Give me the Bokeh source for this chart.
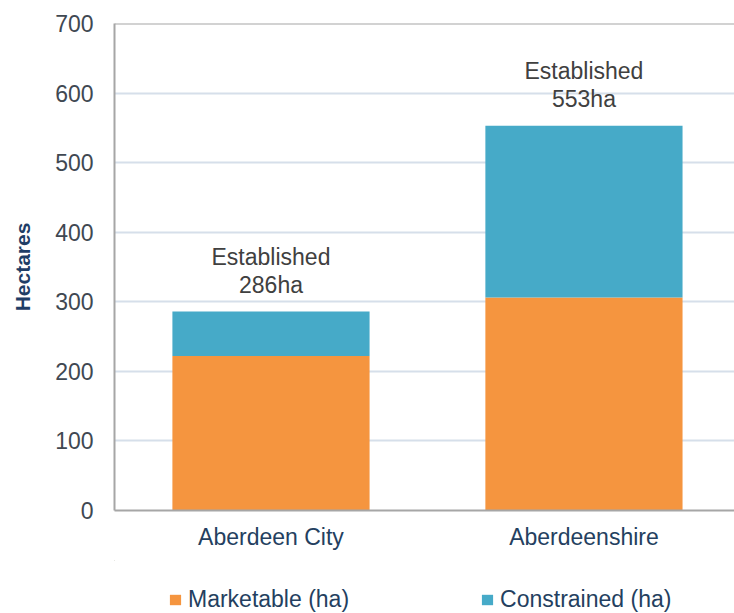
from bokeh.plotting import figure
from bokeh.layouts import column
from bokeh.models import (ColumnDataSource, Range1d, FixedTicker, Span, Legend,
                          LegendItem)
from bokeh.core.properties import value
from bokeh.embed import file_html
from bokeh.resources import INLINE

# ---- data ----
categories = ["Aberdeen City", "Aberdeenshire"]
marketable = [222, 306]
constrained = [64, 247]
established = [286, 553]
y_ticks = [0, 100, 200, 300, 400, 500, 600, 700]
series_names = ["Marketable (ha)", "Constrained (ha)"]

FONT = "Liberation Sans"
ORANGE = "#F5953F"
BLUE = "#46AAC8"
GRID = "#d6dfea"
AXIS = "#a6a6a6"
NAVY = "#243f60"

x_pos = [i + 0.5 for i in range(len(categories))]
stack_top = [m + c for m, c in zip(marketable, constrained)]
src = ColumnDataSource(dict(
    x=x_pos,
    m=marketable,
    top=stack_top,
    est=established,
    label=[f"Established\n{v}ha" for v in established],
))

p = figure(width=734, height=560,
           x_range=Range1d(0, 1.981), y_range=Range1d(0, 700),
           output_backend="svg", toolbar_location=None,
           min_border_left=114, min_border_right=0,
           min_border_top=23, min_border_bottom=50)
p.background_fill_color = "white"
p.border_fill_color = "white"
p.outline_line_color = None

r1 = p.vbar(x="x", width=0.63, bottom=0, top="m", source=src,
            fill_color=ORANGE, line_color=None)
r2 = p.vbar(x="x", width=0.63, bottom="m", top="top", source=src,
            fill_color=BLUE, line_color=None)

p.text(x="x", y="est", text="label", source=src,
       text_align="center", text_baseline="bottom", y_offset=-14,
       text_font=value(FONT), text_font_size="23px", text_color="#404040",
       text_line_height=1.06)

# top frame border
p.add_layout(Span(location=700, dimension="width", line_color=AXIS, line_width=2))

# axes
p.yaxis.ticker = FixedTicker(ticks=y_ticks)
p.yaxis.major_tick_line_color = None
p.yaxis.minor_tick_line_color = None
p.yaxis.axis_line_color = AXIS
p.yaxis.axis_line_width = 2
p.yaxis.major_label_standoff = 15
p.yaxis.major_label_text_font = FONT
p.yaxis.major_label_text_font_size = "23px"
p.yaxis.major_label_text_color = "#404852"
p.yaxis.axis_label = "Hectares"
p.yaxis.axis_label_standoff = 18
p.yaxis.axis_label_text_font = FONT
p.yaxis.axis_label_text_font_size = "21px"
p.yaxis.axis_label_text_font_style = "bold"
p.yaxis.axis_label_text_color = "#1f3d66"

p.xaxis.ticker = FixedTicker(ticks=x_pos)
p.xaxis.major_label_overrides = {x: c for x, c in zip(x_pos, categories)}
p.xaxis.major_tick_line_color = None
p.xaxis.minor_tick_line_color = None
p.xaxis.axis_line_color = AXIS
p.xaxis.axis_line_width = 2
p.xaxis.major_label_standoff = 7
p.xaxis.major_label_text_font = FONT
p.xaxis.major_label_text_font_size = "23px"
p.xaxis.major_label_text_color = NAVY

p.xgrid.visible = False
p.ygrid.grid_line_color = GRID
p.ygrid.grid_line_width = 2

# ---- legend strip below the chart ----
# the swatch renderers reuse the chart data but lie outside this strip's view
lg = figure(width=734, height=53, x_range=Range1d(10, 12), y_range=Range1d(-2, -1),
            output_backend="svg", toolbar_location=None,
            x_axis_type=None, y_axis_type=None,
            min_border_left=114, min_border_right=0,
            min_border_top=0, min_border_bottom=0)
lg.outline_line_color = None
lg.grid.visible = False
lg.border_fill_color = "white"
lg.background_fill_color = "white"
s1 = lg.vbar(x="x", width=0.63, bottom=0, top="m", source=src,
             fill_color=ORANGE, line_color=None)
s2 = lg.vbar(x="x", width=0.63, bottom="m", top="top", source=src,
             fill_color=BLUE, line_color=None)

legend = Legend(items=[LegendItem(label=series_names[0], renderers=[s1]),
                       LegendItem(label=series_names[1], renderers=[s2])],
                location=(54, 0), orientation="horizontal",
                glyph_width=14, glyph_height=13, label_standoff=6,
                spacing=131, padding=0, margin=0,
                border_line_color=None, background_fill_alpha=0,
                label_text_font=FONT, label_text_font_size="23px",
                label_text_color=NAVY)
lg.add_layout(legend)

layout = column(p, lg, spacing=0)
open("out.html", "w").write(file_html(layout, INLINE))
